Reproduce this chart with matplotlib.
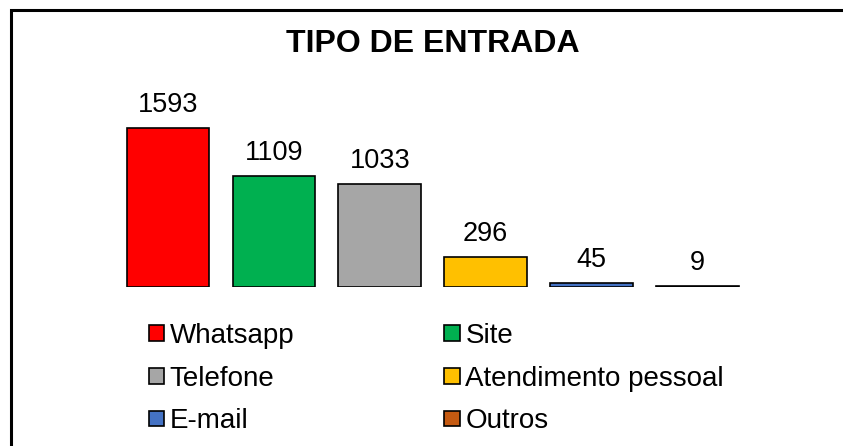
import matplotlib.pyplot as plt
from matplotlib.patches import Patch, Rectangle

# data
categories = ["Whatsapp", "Site", "Telefone", "Atendimento pessoal", "E-mail", "Outros"]
values = [1593, 1109, 1033, 296, 45, 9]
colors = ["#FF0000", "#00B050", "#A6A6A6", "#FFC000", "#4472C4", "#C55A11"]

plt.rcParams["font.family"] = ["Liberation Sans", "DejaVu Sans"]

W, H = 843, 446
fig = plt.figure(figsize=(W / 100, H / 100), dpi=100)

ax = fig.add_axes([115 / W, 0.3565, 635.4 / W, 179.7 / H])
x = range(len(values))
bars = ax.bar(x, values, width=0.78, color=colors, edgecolor="black", linewidth=1.2)
ax.set_xlim(-0.5, len(values) - 0.5)
ax.set_ylim(0, 1800)
ax.axis("off")

for xi, v in zip(x, values):
    ax.annotate(str(v), (xi, v), xytext=(0, 11.5), textcoords="offset points",
                ha="center", va="baseline", fontsize=19.5)

fig.text(433 / W, (H - 44) / H, "TIPO DE ENTRADA", ha="center", va="center",
         fontsize=23, fontweight="bold")

# legend filled column-wise, so reorder to get row order
order = [0, 2, 4, 1, 3, 5]
handles = [Patch(facecolor=colors[i], edgecolor="black", linewidth=1.2) for i in order]
labels = [categories[i] for i in order]
fig.legend(handles, labels, ncol=2, loc="upper left",
           bbox_to_anchor=(149 / W, (H - 323) / H), frameon=False,
           fontsize=20, handlelength=0.55, handleheight=0.5, handletextpad=0.2,
           labelspacing=0.6, columnspacing=5.4, borderpad=0, borderaxespad=0)

# outer frame (only left and top visible)
fig.patches.append(Rectangle((10.5 / W, -0.1), 1.0, (H - 9.5) / H + 0.1,
                             transform=fig.transFigure, fill=False,
                             edgecolor="black", linewidth=2.2, clip_on=False))

fig.savefig("out.png", dpi=100)
